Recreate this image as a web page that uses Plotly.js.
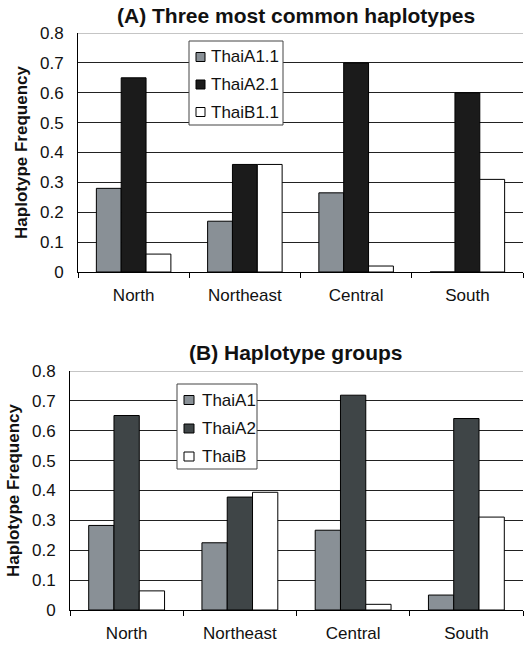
<!DOCTYPE html>
<html><head><meta charset="utf-8">
<script src="https://cdn.plot.ly/plotly-3.0.1.min.js"></script>
<style>html,body{margin:0;padding:0;background:#fff}</style>
</head><body>
<div id="chart" style="width:524px;height:645px"></div>
<script>
const categories = ['North', 'Northeast', 'Central', 'South'];
// (A) Three most common haplotypes
const seriesA_names = ['ThaiA1.1', 'ThaiA2.1', 'ThaiB1.1'];
const A_ThaiA1_1 = [0.28, 0.17, 0.265, 0];
const A_ThaiA2_1 = [0.65, 0.36, 0.70, 0.60];
const A_ThaiB1_1 = [0.06, 0.36, 0.02, 0.31];
// (B) Haplotype groups
const seriesB_names = ['ThaiA1', 'ThaiA2', 'ThaiB'];
const B_ThaiA1 = [0.283, 0.225, 0.267, 0.05];
const B_ThaiA2 = [0.651, 0.378, 0.719, 0.641];
const B_ThaiB = [0.064, 0.394, 0.019, 0.311];
const yTickVals = [0, 0.1, 0.2, 0.3, 0.4, 0.5, 0.6, 0.7, 0.8];
const yTickText = ['0', '0.1', '0.2', '0.3', '0.4', '0.5', '0.6', '0.7', '0.8'];
const titleA = '(A) Three most common haplotypes';
const titleB = '(B) Haplotype groups';
const yTitle = 'Haplotype Frequency';

const FONT = 'Liberation Sans, Arial, sans-serif';
const W = 524, H = 645;
const colorsA = ['#899096', '#1b1b1b', '#ffffff'];
const colorsB = ['#899096', '#3f4547', '#ffffff'];

function mk(y, name, color, xa, ya) {
  return {type: 'bar', x: categories, y: y, name: name, xaxis: xa, yaxis: ya, showlegend: false,
    marker: {color: color, line: {color: '#000', width: 1}}, hoverinfo: 'x+y+name'};
}
const data = [
  mk(A_ThaiA1_1, seriesA_names[0], colorsA[0], 'x', 'y'),
  mk(A_ThaiA2_1, seriesA_names[1], colorsA[1], 'x', 'y'),
  mk(A_ThaiB1_1, seriesA_names[2], colorsA[2], 'x', 'y'),
  mk(B_ThaiA1, seriesB_names[0], colorsB[0], 'x2', 'y2'),
  mk(B_ThaiA2, seriesB_names[1], colorsB[1], 'x2', 'y2'),
  mk(B_ThaiB, seriesB_names[2], colorsB[2], 'x2', 'y2')
];

const px = v => v / W, py = v => (H - v) / H;
function xax(d0, d1, anchor) {
  return {domain: [d0, d1], anchor: anchor, showgrid: false, showline: true, linecolor: '#000', linewidth: 1,
    ticks: 'outside', tickson: 'boundaries', ticklen: 5, tickcolor: '#000', ticklabelstandoff: 8,
    tickfont: {family: FONT, size: 17, color: '#111'}, fixedrange: true, zeroline: false};
}
function yax(d0, d1, anchor) {
  return {domain: [d0, d1], anchor: anchor, range: [0, 0.8], tickvals: yTickVals, ticktext: yTickText,
    showgrid: true, gridcolor: '#222', gridwidth: 1, showline: true, linecolor: '#000', linewidth: 1,
    ticks: 'outside', ticklen: 0, ticklabelstandoff: 10, zeroline: false,
    tickfont: {family: FONT, size: 17, color: '#111'},
    title: {text: yTitle, font: {family: FONT, size: 17, color: '#111', weight: 'bold'}, standoff: 8},
    fixedrange: true};
}

// custom legend boxes (layout only)
function legendParts(names, colors, box, sw, rows, textX) {
  const shapes = [{type: 'rect', xref: 'paper', yref: 'paper', x0: px(box[0]), x1: px(box[1]), y0: py(box[3]), y1: py(box[2]),
    line: {color: '#444', width: 1}, fillcolor: '#fff', layer: 'above'}];
  const anns = [];
  names.forEach((n, i) => {
    const c = rows[i];
    shapes.push({type: 'rect', xref: 'paper', yref: 'paper', x0: px(sw[0]), x1: px(sw[1]), y0: py(c + 4.5), y1: py(c - 4.5),
      line: {color: '#000', width: 1}, fillcolor: colors[i], layer: 'above'});
    anns.push({text: n, xref: 'paper', yref: 'paper', x: px(textX), y: py(c), xanchor: 'left', yanchor: 'middle',
      showarrow: false, font: {family: FONT, size: 17, color: '#111'}});
  });
  return {shapes, anns};
}
const legA = legendParts(seriesA_names, colorsA, [189, 283, 41, 125], [196, 205], [57, 84.5, 112], 209);
const legB = legendParts(seriesB_names, colorsB, [177, 257, 384, 469], [184, 194], [400, 428.5, 456.5], 200);

const layout = {
  width: W, height: H, margin: {l: 0, r: 0, t: 0, b: 0}, paper_bgcolor: '#fff', plot_bgcolor: '#fff',
  barmode: 'group', bargap: 0.33, bargroupgap: 0, showlegend: false,
  xaxis: xax(px(78), px(523), 'y'),
  yaxis: yax(py(272), py(33), 'x'),
  xaxis2: xax(px(70), px(523), 'y2'),
  yaxis2: yax(py(610), py(371), 'x2'),
  shapes: [
    {type: 'line', xref: 'x domain', yref: 'y', x0: 0, x1: 1, y0: 0.8, y1: 0.8, line: {color: '#8c8c8c', width: 1}},
    {type: 'line', xref: 'x2 domain', yref: 'y2', x0: 0, x1: 1, y0: 0.8, y1: 0.8, line: {color: '#8c8c8c', width: 1}}
  ].concat(legA.shapes, legB.shapes),
  annotations: [
    {text: '<b>' + titleA + '</b>', xref: 'paper', yref: 'paper', x: px(296), y: py(15), xanchor: 'center', yanchor: 'middle',
      showarrow: false, font: {family: FONT, size: 21, color: '#111'}},
    {text: '<b>' + titleB + '</b>', xref: 'paper', yref: 'paper', x: px(296), y: py(352), xanchor: 'center', yanchor: 'middle',
      showarrow: false, font: {family: FONT, size: 21, color: '#111'}}
  ].concat(legA.anns, legB.anns)
};
Plotly.newPlot('chart', data, layout, {displayModeBar: false, staticPlot: true});
</script>
</body></html>
